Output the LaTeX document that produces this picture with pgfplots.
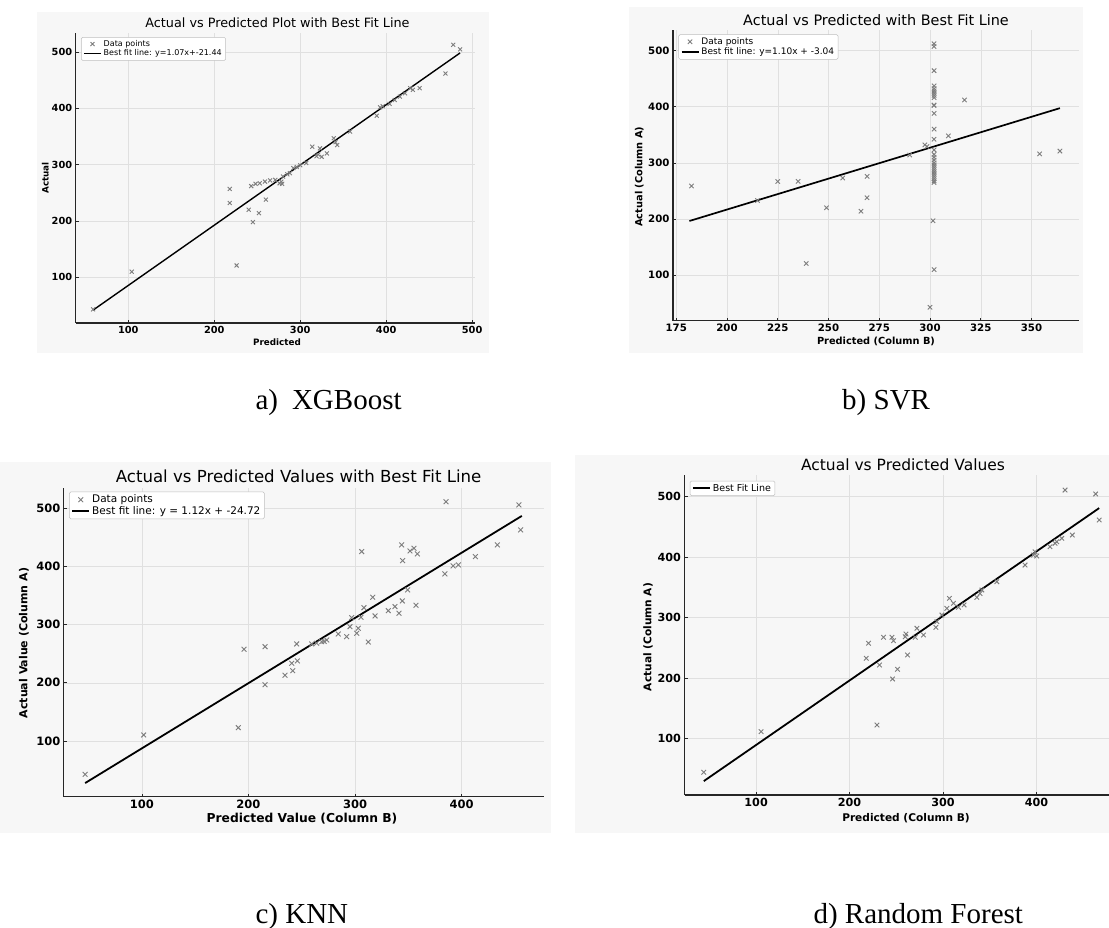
\documentclass[border=0pt]{standalone}
\usepackage{pgfplots}
\pgfplotsset{compat=1.18}
\usepackage{fontspec}
\setmainfont{DejaVu Sans}
\newfontfamily\capfont{Liberation Serif}
\newcommand{\fs}[1]{\fontsize{#1}{#1}\selectfont}
\definecolor{bg}{RGB}{247,247,247}
\definecolor{gridc}{RGB}{224,224,224}
\definecolor{mk}{RGB}{125,125,125}
\pgfplotsset{
  panel/.style={
    scale only axis,
    axis x line*=bottom,
    axis y line*=left,
    axis line style={-, line width=1.3pt, black!85},
    grid=major,
    grid style={gridc, line width=0.5pt},
    major tick length=3pt,
    tick align=inside,
    tick style={black!85, line width=0.6pt},
    /pgf/number format/assume math mode=true,
    legend cell align=left,
    legend style={draw=black!25, fill=white, rounded corners=1.5pt,
      inner xsep=2pt, inner ysep=1pt, row sep=-2pt, line width=0.5pt},
  },
  scat/.style={only marks, mark=x, mark options={mk, line width=0.9pt}},
  fit/.style={black, no marks},
}
\begin{document}
\begin{tikzpicture}
\fill[white] (0,0) rectangle (1109pt,-928pt);
\path[use as bounding box] (0,0) rectangle (1109pt,-928pt);
\fill[bg] (36.5pt,-11.7pt) rectangle (489pt,-352.7pt);
\fill[bg] (628.8pt,-7pt) rectangle (1083pt,-352.7pt);
\fill[bg] (0pt,-462pt) rectangle (551pt,-833pt);
\fill[bg] (575pt,-455pt) rectangle (1109pt,-833pt);

% ---------- a) XGBoost ----------
\begin{axis}[panel, at={(75.7pt,-323pt)}, anchor=south west,
  width=399pt, height=290pt,
  xmin=38.8, xmax=503, ymin=18.8, ymax=534,
  xtick={100,200,300,400,500}, ytick={100,200,300,400,500},
  ticklabel style={font=\fs{9.8}\bfseries},
  legend style={at={(0.0133,0.986)}, anchor=north west, font=\fs{8}},
]
\addplot[scat, mark size=2.8pt] table {
59 43
104 110
226 121
218 257
218 232
240 220
245 198
252 214
260 238
243 262
248 266
253 267
259 270
265 272
271 273
276 267
278 270
279 266
280 279
285 283
288 285
292 294
296 296
300 299
307 303
314 332
319 315
321 318
323 329
325 314
331 320
339 347
341 340
343 335
358 359
389 387
393 402
396 404
404 408
410 415
416 421
422 427
428 436
431 433
439 436
469 462
478 513
486 505
};
\addlegendentry{Data points}
\addplot[fit, line width=1.4pt] coordinates {(59,41.69) (486,498.58)};
\addlegendentry{Best fit line: y=1.07x+-21.44}
\end{axis}

% ---------- b) SVR ----------
\begin{axis}[panel, at={(673pt,-320.7pt)}, anchor=south west,
  width=405.8pt, height=290.7pt,
  xmin=173.4, xmax=373.3, ymin=19.2, ymax=536.4,
  xtick={175,200,225,250,275,300,325,350}, ytick={100,200,300,400,500},
  ticklabel style={font=\fs{10.2}\bfseries},
  legend style={at={(0.0133,0.985)}, anchor=north west, font=\fs{9}},
]
\addplot[scat, mark size=3.1pt] table {
182.5 259
215 233
225 267
235 267
239 121
249 220
257 273
266 214
269 276
269 238
290 314
297.5 332
298.5 329
300 43
301.5 197
302 110
302 512
302 507
302 464
302 437
302 432
302 428
302 424
302 420
302 416
302 403
302 402
302 388
302 360
302 342
302 323
302 315
302 310
302 305
302 300
302 296
302 292
302 288
302 284
302 280
302 276
302 272
302 268
302 265
309 348
317 412
354 316
364 321
};
\addlegendentry{Data points}
\addplot[fit, line width=1.7pt] coordinates {(181.5,196.61) (364,397.36)};
\addlegendentry{Best fit line: y=1.10x + -3.04}
\end{axis}

% ---------- c) KNN ----------
\begin{axis}[panel, at={(63.8pt,-796.7pt)}, anchor=south west,
  width=480.5pt, height=308.4pt,
  xmin=26.8, xmax=477.6, ymin=4.3, ymax=534,
  xtick={100,200,300,400}, ytick={100,200,300,400,500},
  ticklabel style={font=\fs{11.5}\bfseries},
  legend style={at={(0.011,0.989)}, anchor=north west, font=\fs{10.5}},
]
\addplot[scat, mark size=3.4pt] table {
46.8 42.8
101.7 110.3
190.5 122.9
195.9 257.6
215.6 262
215.6 196.7
234.3 212.9
241.6 220.8
240.6 233.5
245.9 237.5
245.3 266.7
259.4 266.7
264 267.9
268.8 270.6
271 271
273.5 273.5
284.3 283.8
292.2 279.2
295.3 296.4
296.9 311.9
301.6 285
303.1 293.6
305.6 312.5
306.3 425.3
308.4 329
312.5 270
316.6 346.9
318.8 314.8
331.2 323.9
337.5 330.8
341.3 319.4
344.4 340.5
343.8 436.8
344.7 409.8
349.4 359.5
351.6 426.5
355.3 431
357.2 333
358.5 421.3
384.3 387
385.4 511
392 400.7
397 402.4
413 416.7
433.5 436.8
453.8 505.5
455.4 462.5
};
\addlegendentry{Data points}
\addplot[fit, line width=1.8pt] coordinates {(46.8,27.70) (456.5,486.56)};
\addlegendentry{Best fit line: y = 1.12x + -24.72}
\end{axis}

% ---------- d) Random Forest ----------
\begin{axis}[panel, at={(684.5pt,-795pt)}, anchor=south west,
  width=424.5pt, height=320pt,
  xmin=23.4, xmax=477.5, ymin=6.9, ymax=535.9,
  xtick={100,200,300,400}, ytick={100,200,300,400,500},
  ticklabel style={font=\fs{11.2}\bfseries},
  legend style={at={(0.0125,0.982)}, anchor=north west, font=\fs{9.5}},
]
\addplot[scat, mark size=3.2pt, forget plot] table {
44 44.5
105.3 111.6
229.3 122.6
217.8 232.9
220.3 257.7
232 221.8
236.3 267.6
246 198.7
245.3 267.6
247 262
251.3 214.7
259.5 268.6
260.3 273
262 238.4
270.2 267.6
272 282.5
279 271.4
292.3 284
293.4 293.4
298.7 304.5
304 315.5
306.8 332
311.1 323.8
316.5 317.2
322.5 321
336.1 333.7
339.6 340
341.5 345.8
357.5 359.5
387.7 387
396.6 403.6
398.4 409
400.2 402
414.4 417.4
419.8 423
421.6 425.6
427 431.2
430.5 511
438.3 436.7
463.2 504.5
467 461.5
};
\addplot[fit, line width=1.8pt] coordinates {(44,29.85) (467,481.19)};
\addlegendentry{Best Fit Line}
\end{axis}

% ---------- titles and labels ----------
\node[font=\fs{12.8}] at (277.5pt,-23pt) {Actual vs Predicted Plot with Best Fit Line};
\node[font=\fs{14.4}] at (876pt,-20pt) {Actual vs Predicted with Best Fit Line};
\node[font=\fs{16.6}] at (298.6pt,-476.7pt) {Actual vs Predicted Values with Best Fit Line};
\node[font=\fs{15.5}] at (903pt,-465pt) {Actual vs Predicted Values};

\node[font=\fs{8.8}\bfseries] at (277pt,-342.7pt) {Predicted};
\node[font=\fs{8.8}\bfseries, rotate=90] at (45.4pt,-178pt) {Actual};
\node[font=\fs{9.8}\bfseries] at (876pt,-341.7pt) {Predicted (Column B)};
\node[font=\fs{9.8}\bfseries, rotate=90] at (639.4pt,-176.7pt) {Actual (Column A)};
\node[font=\fs{12.3}\bfseries] at (302pt,-818.5pt) {Predicted Value (Column B)};
\node[font=\fs{11}\bfseries, rotate=90] at (24pt,-643pt) {Actual Value (Column A)};
\node[font=\fs{10.6}\bfseries] at (906pt,-818.5pt) {Predicted (Column B)};
\node[font=\fs{10.6}\bfseries, rotate=90] at (648pt,-637pt) {Actual (Column A)};

% ---------- captions ----------
\node[font=\capfont\fs{29}, anchor=west] at (252pt,-403pt) {a)\hspace{14pt}XGBoost};
\node[font=\capfont\fs{29}, anchor=west] at (838.7pt,-403pt) {b) SVR};
\node[font=\capfont\fs{29}, anchor=west] at (252pt,-916.7pt) {c) KNN};
\node[font=\capfont\fs{29}, anchor=west] at (810pt,-916.7pt) {d) Random Forest};
\end{tikzpicture}
\end{document}
